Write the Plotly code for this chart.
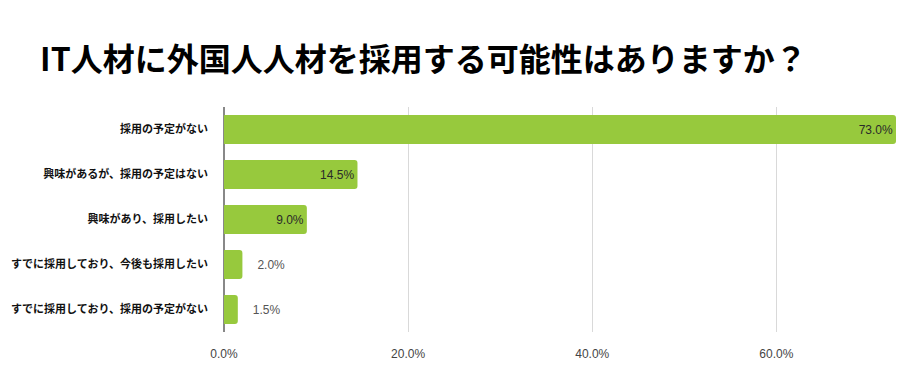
import plotly.graph_objects as go

title = "IT人材に外国人人材を採用する可能性はありますか？"
categories = [
    "採用の予定がない",
    "興味があるが、採用の予定はない",
    "興味があり、採用したい",
    "すでに採用しており、今後も採用したい",
    "すでに採用しており、採用の予定がない",
]
values = [73.0, 14.5, 9.0, 2.0, 1.5]
tick_vals = [0, 20, 40, 60]
tick_text = ["0.0%", "20.0%", "40.0%", "60.0%"]

inside_min = 5.0
positions = ["inside" if v >= inside_min else "outside" for v in values]
labels = [f"{v:.1f}%" if v >= inside_min else f"\u2003{v:.1f}%" for v in values]

fig = go.Figure(go.Bar(
    y=categories,
    x=values,
    orientation="h",
    marker=dict(color="#97C93D", cornerradius=3, line=dict(width=0)),
    width=0.64,
    text=labels,
    textposition=positions,
    insidetextanchor="end",
    insidetextfont=dict(color="#2a2a2a", size=12, family="Arial, Liberation Sans, sans-serif"),
    outsidetextfont=dict(color="#555555", size=12, family="Arial, Liberation Sans, sans-serif"),
    cliponaxis=False,
    hoverinfo="skip",
))

fig.update_layout(
    width=911, height=380,
    paper_bgcolor="white", plot_bgcolor="white",
    margin=dict(l=224, r=15, t=107, b=48),
    title=dict(text="<b>" + title + "</b>", x=0.044, xanchor="left", y=0.842, yanchor="middle",
               font=dict(size=32, color="#000000", family="Noto Sans CJK JP")),
    showlegend=False,
    uniformtext=dict(minsize=12, mode="show"),
)
fig.update_xaxes(range=[0, 73.0], tickvals=tick_vals, ticktext=tick_text,
                 showgrid=True, gridcolor="#d9d9d9", gridwidth=1,
                 zeroline=True, zerolinecolor="#888888", zerolinewidth=2,
                 automargin=False, ticks="", ticklabelstandoff=13,
                 tickfont=dict(size=12, color="#444444", family="Arial, Liberation Sans, sans-serif"))
fig.update_yaxes(autorange="reversed", ticks="", ticklabelstandoff=15, automargin=False,
                 tickfont=dict(size=11, color="#111111", family="Noto Sans CJK JP", weight="bold"),
                 categoryorder="array", categoryarray=categories)

fig.write_html("out.html", config={"displayModeBar": False},
               post_script="document.body.style.margin='0';")
